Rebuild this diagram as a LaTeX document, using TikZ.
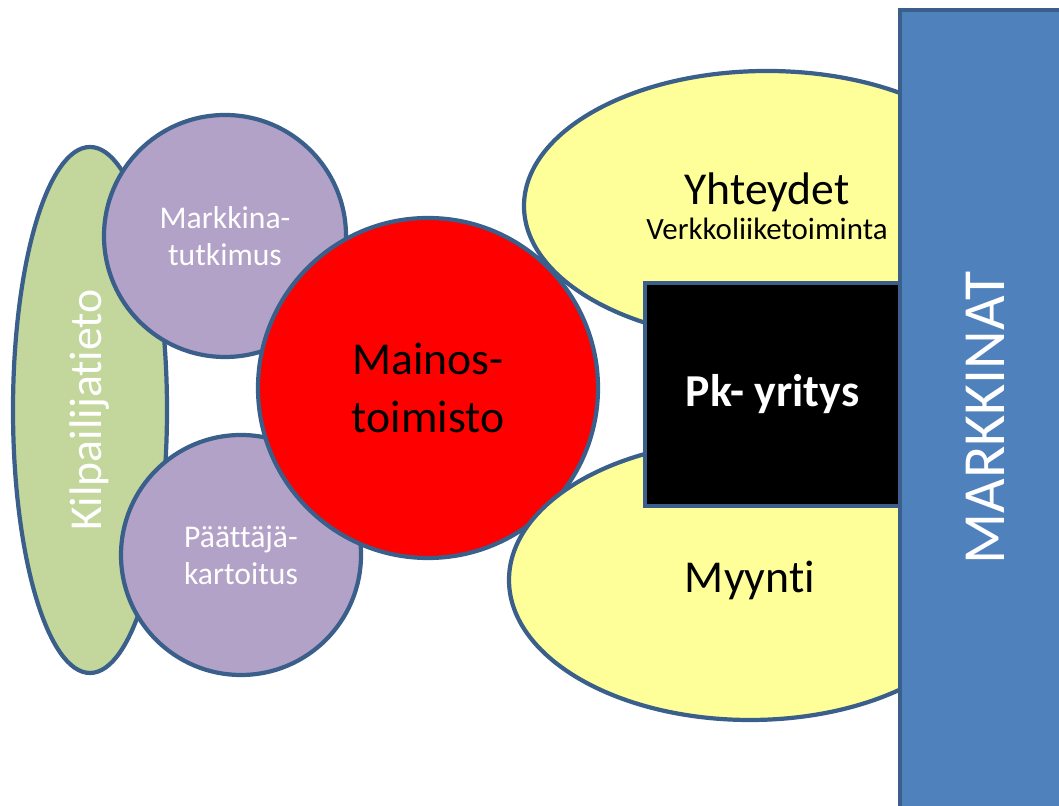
\documentclass[tikz,border=0pt]{standalone}
\usepackage{fontspec}
\setmainfont{Carlito}[Ligatures=NoCommon]
\usetikzlibrary{shapes.geometric}
\definecolor{rim}{HTML}{3A5F8B}
\definecolor{sage}{HTML}{C3D69B}
\definecolor{lilac}{HTML}{B3A2C7}
\definecolor{lemon}{HTML}{FFFF99}
\definecolor{steel}{HTML}{4F81BD}

\begin{document}
\begin{tikzpicture}[
    blob/.style={draw=rim, line width=1.2pt, inner sep=0pt},
    big/.style={font=\fontsize{13}{16.5}\selectfont},
    small/.style={font=\fontsize{9}{10.6}\selectfont}
  ]
    \useasboundingbox (0,0) rectangle (10.59,8.06);
    % left side
    \node[blob, ellipse, fill=sage, rotate=90, minimum width=5.26cm, minimum height=1.54cm, text=white, big] (kilp) at (0.90,3.96) {Kilpailijatieto};
    \node[blob, circle, fill=lilac, minimum size=2.42cm, text=white, small, align=center] (tutk) at (2.25,5.70) {Markkina-\\tutkimus};
    \node[blob, circle, fill=lilac, minimum size=2.40cm, text=white, small, align=center] (kart) at (2.41,2.51) {Päättäjä-\\kartoitus};
    \node[blob, circle, fill=red, minimum size=3.40cm, big, align=center] (mainos) at (4.28,4.18) {Mainos-\\toimisto};
    % right side
    \node[blob, ellipse, fill=lemon, minimum width=4.86cm, minimum height=2.70cm, align=center] (yht) at (7.67,6.00)
        {\fontsize{13}{16}\selectfont Yhteydet\\[-2pt]\fontsize{8.8}{11}\selectfont Verkkoliiketoiminta};
    \node[blob, ellipse, fill=lemon, minimum width=4.82cm, minimum height=2.80cm, big] (myynti) at (7.50,2.26) {Myynti};
    \node[blob, rectangle, fill=black, minimum width=2.55cm, minimum height=2.23cm, text=white, big] (pk) at (7.725,4.115) {\bfseries Pk- yritys};
    \node[blob, rectangle, fill=steel, rotate=90, minimum width=8.16cm, minimum height=1.70cm, text=white, font=\fontsize{17}{20}\selectfont] (mark) at (9.85,3.88) {MARKKINAT};
\end{tikzpicture}
\end{document}
